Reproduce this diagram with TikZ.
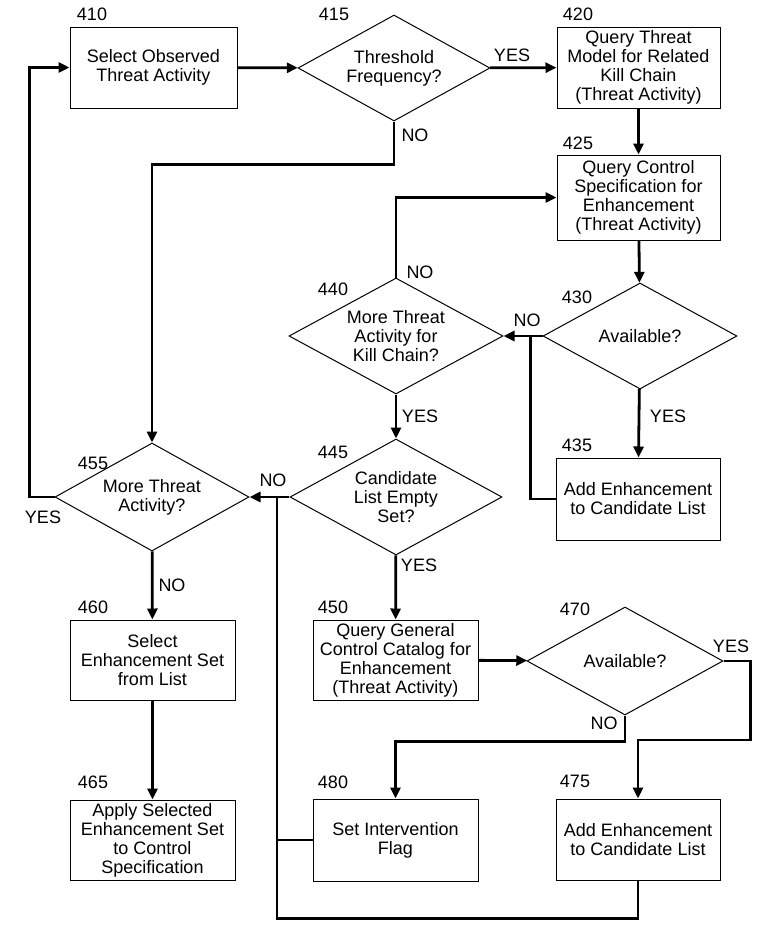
\documentclass[tikz,border=0pt]{standalone}
\usepackage{fontspec}
\setmainfont{Liberation Sans}
\usepackage{tikz}
\usetikzlibrary{arrows.meta,shapes.geometric}

\begin{document}
\begin{tikzpicture}[x=1pt, y=-1pt,
  every node/.style={font=\fontsize{18}{19}\selectfont},
  box/.style={draw, line width=1pt, minimum width=165pt,
              minimum height=81pt, inner sep=2pt, align=center},
  dec/.style={draw, diamond, aspect=1.8, line width=1pt,
              inner sep=0pt, align=center},
  num/.style={inner sep=0pt},
  yn/.style={inner sep=0pt},
  line/.style={line width=2.8pt},
  arr/.style={line width=2.8pt, -{Triangle[length=11pt,width=10pt]}}
]
\useasboundingbox (0,0) rectangle (771,938);
% Boxes
\node[box, minimum width=167pt] (select) at (153.5,67.5) {
  Select Observed\\Threat Activity};
\node[box, minimum width=163pt] (querytm) at (638.5,67.5) {
  Query Threat\\Model for Related\\Kill Chain\\(Threat Activity)};
\node[box, minimum width=163pt, minimum height=85pt] (querycs) at (638.5,197.5) {
  Query Control\\Specification for\\Enhancement\\(Threat Activity)};
\node[box, minimum width=164pt, minimum height=82pt] (addcand) at (638,499) {
  Add Enhancement\\to Candidate List};
\node[box, minimum height=80pt] (selset) at (152.5,660) {
  Select\\Enhancement Set\\from List};
\node[box, minimum height=80pt] (apply) at (152.5,840) {
  Apply Selected\\Enhancement Set\\to Control\\Specification};
\node[box, minimum height=80pt] (querygc) at (395.5,660) {
  Query General\\Control Catalog for\\Enhancement\\(Threat Activity)};
\node[box, minimum height=82pt] (setflag) at (395.5,840) {
  Set Intervention\\Flag};
\node[box, minimum width=164pt] (addgc) at (638,839.5) {
  Add Enhancement\\to Candidate List};
% Decisions
\node[dec, minimum width=192pt, minimum height=106pt] (thresh) at (394,68) {
  Threshold\\Frequency?};
\node[dec, minimum width=194pt, minimum height=106pt] (avail) at (640,336) {
  Available?};
\node[dec, minimum width=214pt, minimum height=116pt] (morekc) at (396,336) {
  More Threat\\Activity for\\Kill Chain?};
\node[dec, minimum width=212pt, minimum height=116pt] (empty) at (396,497) {
  Candidate\\List Empty\\Set?};
\node[dec, minimum width=194pt, minimum height=108pt] (morethr) at (152,497) {
  More Threat\\Activity?};
\node[dec, minimum width=196pt, minimum height=108pt] (availgc) at (625,661) {
  Available?};
% Reference numbers
\node[num] at (92,14) {410};
\node[num] at (334,14) {415};
\node[num] at (578,14) {420};
\node[num] at (578,143) {425};
\node[num] at (577,297) {430};
\node[num] at (333,289) {440};
\node[num] at (577,445) {435};
\node[num] at (333,452) {445};
\node[num] at (93,463) {455};
\node[num] at (93,607) {460};
\node[num] at (93,782) {465};
\node[num] at (333,607) {450};
\node[num] at (575,609) {470};
\node[num] at (333,782) {480};
\node[num] at (575,781) {475};
% Arrows
\draw[arr] (select) -- (thresh);
\draw[arr] (thresh) -- (querytm);
\draw[arr] (thresh.south) -- ++(0,43) -| (morethr.north);
\draw[arr] (querytm) -- (querycs);
\draw[arr] (querycs) -- (avail);
\draw[arr] (avail) -- (morekc);
\draw[arr] (avail) -- (addcand);
\draw[line] (addcand.west) -- ++(-25,0) |- (avail.west);
\draw[arr] (morekc.north) |- (querycs.west);
\draw[arr] (morekc) -- (empty);
\draw[arr] (empty) -- (morethr);
\draw[arr] (morethr.west) -- ++(-25,0) |- (select.west);
\draw[arr] (morethr) -- (selset);
\draw[arr] (selset) -- (apply);
\draw[arr] (empty) -- (querygc);
\draw[arr] (querygc) -- (availgc);
\draw[arr] (availgc.south) -- ++(0,26) -| (setflag.north);
\draw[arr] (availgc.east) -- ++(27,0) -- ++(0,79) -| (addgc.north);
% Return path
\coordinate (join) at (277,497);
\draw[line] (addgc.south) -- ++(0,38) -| (join);
\draw[line] (setflag.west) -- (setflag.west -| join);
% Yes / No labels
\node[yn] at (512,55) {YES};
\node[yn] at (415,135) {NO};
\node[yn] at (420,272) {NO};
\node[yn] at (527,320) {NO};
\node[yn] at (668,416) {YES};
\node[yn] at (420,416) {YES};
\node[yn] at (273,480) {NO};
\node[yn] at (419,565) {YES};
\node[yn] at (43,517) {YES};
\node[yn] at (172,585) {NO};
\node[yn] at (604,723) {NO};
\node[yn] at (731,646) {YES};
\end{tikzpicture}
\end{document}
